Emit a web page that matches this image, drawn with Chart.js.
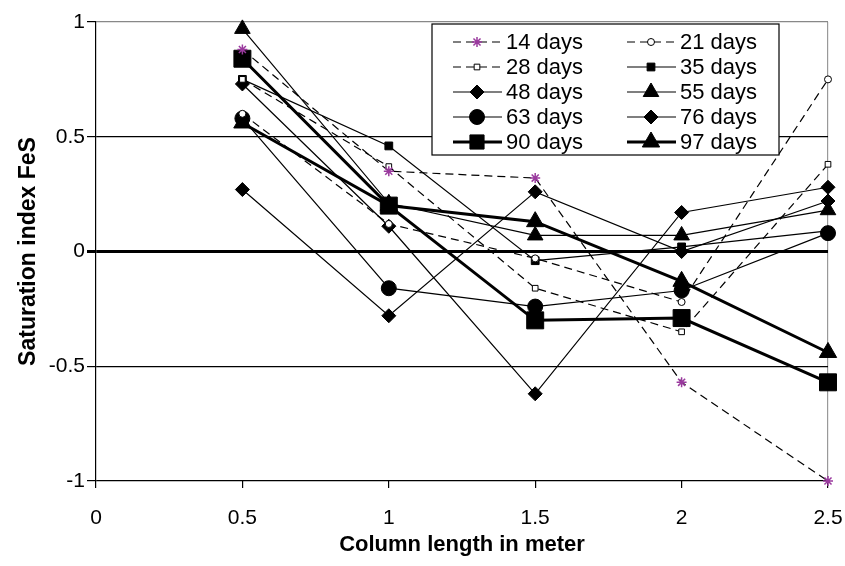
<!DOCTYPE html>
<html>
<head>
<meta charset="utf-8">
<script src="https://cdn.jsdelivr.net/npm/chart.js@4/dist/chart.umd.min.js"></script>
<style>
    html, body { margin: 0; padding: 0; background: #fff; }
    #wrap { position: relative; width: 845px; height: 566px; }
</style>
</head>
<body>
<div id="wrap"><canvas id="chart" width="845" height="566"></canvas></div>
<script>
//column positions (m)
const columnLength = [0.5, 1, 1.5, 2, 2.5];

//saturation index per sampling day
const days14 = [0.88, 0.35, 0.32, -0.57, -1.0];
const days21 = [0.60, 0.12, -0.03, -0.22, 0.75];
const days28 = [0.75, 0.37, -0.16, -0.35, 0.38];
const days35 = [0.75, 0.46, -0.04, 0.02, 0.09];
const days48 = [0.73, 0.11, -0.62, 0.17, 0.28];
const days55 = [0.97, 0.21, 0.07, 0.07, 0.18];
const days63 = [0.58, -0.16, -0.24, -0.17, 0.08];
const days76 = [0.27, -0.28, 0.26, 0.00, 0.22];
const days90 = [0.84, 0.20, -0.30, -0.29, -0.57];
const days97 = [0.56, 0.20, 0.13, -0.13, -0.44];

const xTicks = [0, 0.5, 1, 1.5, 2, 2.5];
const yTicks = [-1, -0.5, 0, 0.5, 1];

const FONT = "'Liberation Sans', Arial, sans-serif";

function pts(values) {
    return values.map((v, i) => ({x: columnLength[i], y: v}));
}

function series(label, values, style) {
    return Object.assign({
        label: label,
        data: pts(values),
        borderColor: "#000",
        backgroundColor: "#000",
        pointBorderColor: "#000",
        pointBackgroundColor: "#000",
        borderWidth: 1.2,
        pointBorderWidth: 1,
        tension: 0,
        clip: false
    }, style);
}

const DASH = [8, 5];

const datasets = [
    series("14 days", days14, {borderDash: DASH, pointStyle: "star", pointRadius: 5, pointBorderColor: "#9a3a9e", pointBackgroundColor: "#9a3a9e", pointBorderWidth: 1.5}),
    series("21 days", days21, {borderDash: DASH, pointStyle: "circle", pointRadius: 3.5, pointBackgroundColor: "#fff"}),
    series("28 days", days28, {borderDash: DASH, pointStyle: "rect", pointRadius: 4, pointBackgroundColor: "#fff"}),
    series("35 days", days35, {pointStyle: "rect", pointRadius: 5.5}),
    series("48 days", days48, {pointStyle: "rectRot", pointRadius: 7}),
    series("55 days", days55, {pointStyle: "triangle", pointRadius: 9}),
    series("63 days", days63, {pointStyle: "circle", pointRadius: 7.5}),
    series("76 days", days76, {pointStyle: "rectRot", pointRadius: 7}),
    series("90 days", days90, {borderWidth: 3, pointStyle: "rect", pointRadius: 12}),
    series("97 days", days97, {borderWidth: 3, pointStyle: "triangle", pointRadius: 10})
];

//legend drawn inside the plot, two columns
const boxLegend = {
    id: "boxLegend",
    afterDatasetsDraw(chart) {
        const ctx = chart.ctx;
        const x0 = 432, y0 = 24, w = 347, h = 131;
        ctx.save();
        ctx.fillStyle = "#fff";
        ctx.fillRect(x0, y0, w, h);
        ctx.strokeStyle = "#000";
        ctx.lineWidth = 1.2;
        ctx.strokeRect(x0, y0, w, h);
        ctx.font = "22px " + FONT;
        ctx.textBaseline = "middle";
        ctx.fillStyle = "#000";
        chart.data.datasets.forEach((ds, i) => {
            const col = i % 2, row = Math.floor(i / 2);
            const lx = col === 0 ? 453 : 627;
            const ly = 42 + row * 25;
            ctx.save();
            ctx.strokeStyle = ds.borderColor;
            ctx.lineWidth = ds.borderWidth;
            ctx.setLineDash(ds.borderDash || []);
            ctx.beginPath();
            ctx.moveTo(lx, ly);
            ctx.lineTo(lx + 49, ly);
            ctx.stroke();
            ctx.setLineDash([]);
            ctx.strokeStyle = ds.pointBorderColor;
            ctx.fillStyle = ds.pointBackgroundColor;
            ctx.lineWidth = ds.pointBorderWidth;
            Chart.helpers.drawPoint(ctx, {
                pointStyle: ds.pointStyle,
                radius: Math.min(ds.pointRadius, 10),
                rotation: 0,
                borderWidth: ds.pointBorderWidth
            }, lx + 24, ly);
            ctx.restore();
            ctx.fillText(ds.label, lx + 53, ly + 1);
        });
        ctx.restore();
    }
};

new Chart(document.getElementById("chart"), {
    type: "line",
    data: {datasets: datasets},
    options: {
        responsive: false,
        animation: false,
        devicePixelRatio: 1,
        layout: {padding: {top: 22, right: 17, left: 0, bottom: 0}},
        plugins: {legend: {display: false}, tooltip: {enabled: false}},
        scales: {
            x: {
                type: "linear",
                min: 0,
                max: 2.5,
                afterBuildTicks: (s) => { s.ticks = xTicks.map(v => ({value: v})); },
                afterFit: (s) => { s.height = 85; s.paddingLeft = 0; s.paddingRight = 0; },
                border: {display: false},
                grid: {
                    drawOnChartArea: true,
                    color: (c) => c.tick && c.tick.value === 2.5 ? "#999" : "rgba(0,0,0,0)",
                    tickColor: "#000",
                    tickLength: 7,
                    lineWidth: 1.2
                },
                ticks: {color: "#000", font: {family: FONT, size: 21}, padding: 18, callback: (v) => String(v)},
                title: {
                    display: true,
                    text: "Column length in meter",
                    color: "#000",
                    font: {family: FONT, size: 22, weight: "bold"},
                    padding: {top: 4, bottom: 8}
                }
            },
            y: {
                min: -1,
                max: 1,
                afterBuildTicks: (s) => { s.ticks = yTicks.map(v => ({value: v})); },
                afterFit: (s) => { s.width = 96; s.paddingTop = 0; s.paddingBottom = 0; },
                border: {display: true, color: "#000", width: 1.2},
                grid: {
                    color: (c) => c.tick && c.tick.value === 1 ? "#888" : "#000",
                    lineWidth: (c) => c.tick && c.tick.value === 0 ? 3 : 1.2,
                    tickColor: "#000",
                    tickLength: 9
                },
                ticks: {color: "#000", font: {family: FONT, size: 21}, padding: 2, callback: (v) => String(v)},
                title: {
                    display: true,
                    text: "Saturation index FeS",
                    color: "#000",
                    font: {family: FONT, size: 23, weight: "bold"},
                    padding: {top: 15, bottom: 4}
                }
            }
        }
    },
    plugins: [boxLegend]
});
</script>
</body>
</html>
